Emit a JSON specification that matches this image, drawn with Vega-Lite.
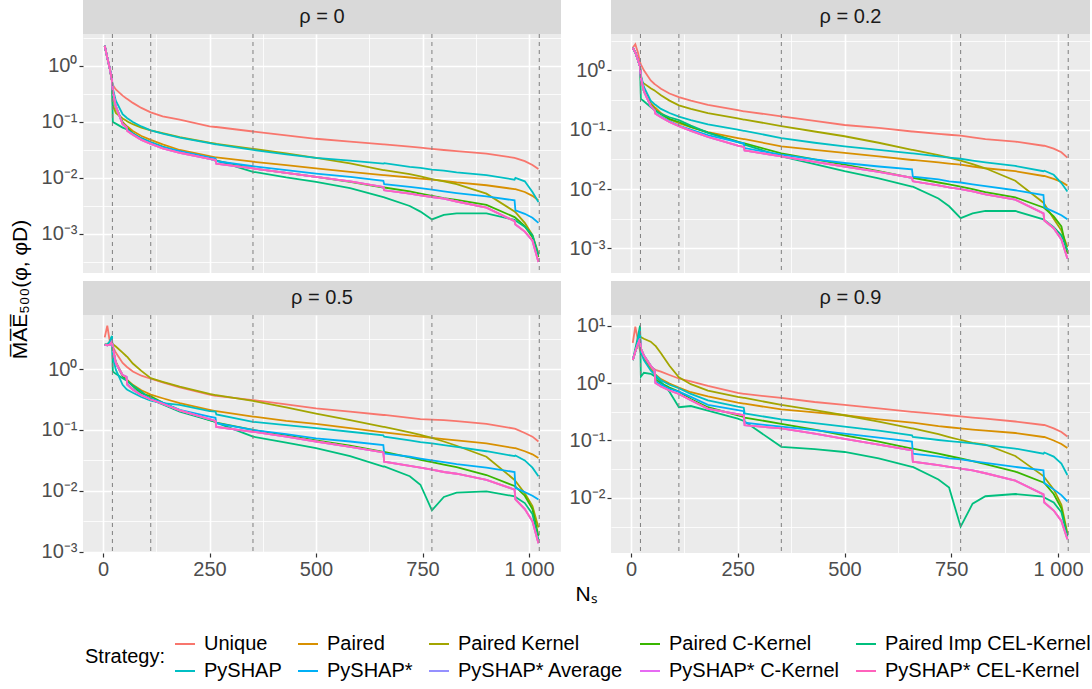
{
"$schema": "https://vega.github.io/schema/vega-lite/v6.json",
"padding": {"left": 9, "top": 0, "right": 0, "bottom": 5},
"autosize": {"type": "pad"},
"background": "white",
"config": {
  "font": "Liberation Sans",
  "view": {"stroke": null},
  "axis": {"domain": false, "labelFontSize": 20, "labelColor": "#4D4D4D", "labelFont": "Liberation Sans", "tickColor": "#333333", "tickSize": 4, "tickWidth": 1.2, "gridColor": "#FFFFFF", "titleFontSize": 21, "titleFontWeight": "normal", "titleColor": "#000000", "titleFont": "Liberation Sans", "labelPadding": 2},
  "legend": {"orient": "none", "legendX": 2, "legendY": 633, "direction": "horizontal", "columns": 5, "titleOrient": "left", "titleAnchor": "middle", "titleBaseline": "middle", "titleFontSize": 20, "titleFontWeight": "normal", "titleColor": "#000000", "titleFont": "Liberation Sans", "labelFont": "Liberation Sans", "labelFontSize": 20, "labelColor": "#000000", "labelLimit": 400, "symbolType": "stroke", "symbolStrokeWidth": 2, "symbolSize": 400, "labelOffset": 8, "columnPadding": 12, "rowPadding": 6, "titlePadding": 8}
},
"datasets": {
  "v": [{"v": 22}, {"v": 112}, {"v": 352}, {"v": 772}, {"v": 1024}],
  "n": [{"k":"U","Strategy":"Unique"},{"k":"P","Strategy":"Paired"},{"k":"PK","Strategy":"Paired Kernel"},{"k":"PC","Strategy":"Paired C-Kernel"},{"k":"PI","Strategy":"Paired Imp CEL-Kernel"},{"k":"S","Strategy":"PySHAP"},{"k":"S2","Strategy":"PySHAP*"},{"k":"SA","Strategy":"PySHAP* Average"},{"k":"SC","Strategy":"PySHAP* C-Kernel"},{"k":"SE","Strategy":"PySHAP* CEL-Kernel"}],
  "d": [
{"p":"0","x":4,"U":2.29,"P":2.29,"PK":2.29,"PC":2.29,"PI":2.29,"S":2.29,"S2":2.29,"SA":2.29,"SC":2.29,"SE":2.29},
{"p":"0","x":10,"U":1.38,"P":1.41,"PK":1.41,"PC":1.41,"PI":1.41,"S":1.41,"S2":1.41,"SA":1.41,"SC":1.41,"SE":1.41},
{"p":"0","x":16,"U":0.871,"P":0.891,"PK":0.891,"PC":0.891,"PI":0.891,"S":0.891,"S2":0.891,"SA":0.891,"SC":0.891,"SE":0.891},
{"p":"0","x":21,"U":0.525,"P":0.55,"PK":0.55,"PC":0.55,"PI":0.55,"S":0.575,"S2":0.55,"SA":0.55,"SC":0.55,"SE":0.55},
{"p":"0","x":23,"U":0.457,"P":0.355,"PK":0.2,"PC":0.355,"PI":0.1,"S":0.398,"S2":0.355,"SA":0.355,"SC":0.355,"SE":0.355},
{"p":"0","x":30,"U":0.38,"P":0.178,"PK":0.145,"PC":0.191,"PI":0.0933,"S":0.24,"S2":0.191,"SA":0.191,"SC":0.191,"SE":0.191},
{"p":"0","x":46,"U":0.295,"P":0.1,"PK":0.115,"PC":0.0955,"PI":0.0794,"S":0.138,"S2":0.0933,"SA":0.0912,"SC":0.0912,"SE":0.0912},
{"p":"0","x":55,"U":0.263,"P":0.0851,"PK":0.105,"PC":0.0813,"PI":0.0741,"S":0.12,"S2":0.0813,"SA":0.0794,"SC":0.0794,"SE":0.0794},
{"p":"0","x":57,"U":0.257,"P":0.0832,"PK":0.102,"PC":0.0776,"PI":0.0724,"S":0.117,"S2":0.0724,"SA":0.0692,"SC":0.0692,"SE":0.0692},
{"p":"0","x":70,"U":0.219,"P":0.0692,"PK":0.0912,"PC":0.0631,"PI":0.0617,"S":0.1,"S2":0.0617,"SA":0.0589,"SC":0.0589,"SE":0.0589},
{"p":"0","x":90,"U":0.178,"P":0.0562,"PK":0.0794,"PC":0.0501,"PI":0.0513,"S":0.0832,"S2":0.0501,"SA":0.0479,"SC":0.0479,"SE":0.0479},
{"p":"0","x":112,"U":0.148,"P":0.0479,"PK":0.0708,"PC":0.0417,"PI":0.0437,"S":0.0708,"S2":0.0427,"SA":0.0407,"SC":0.0407,"SE":0.0407},
{"p":"0","x":140,"U":0.126,"P":0.0398,"PK":0.0631,"PC":0.0347,"PI":0.0363,"S":0.0617,"S2":0.0355,"SA":0.0339,"SC":0.0339,"SE":0.0339},
{"p":"0","x":180,"U":0.11,"P":0.0316,"PK":0.0537,"PC":0.0295,"PI":0.0295,"S":0.0525,"S2":0.0302,"SA":0.0282,"SC":0.0282,"SE":0.0282},
{"p":"0","x":250,"U":0.0832,"P":0.0245,"PK":0.0427,"PC":0.0224,"PI":0.0219,"S":0.0417,"S2":0.0234,"SA":0.0219,"SC":0.0219,"SE":0.0219},
{"p":"0","x":264,"U":0.0813,"P":0.0234,"PK":0.0412,"PC":0.0209,"PI":0.0204,"S":0.0398,"S2":0.0224,"SA":0.0209,"SC":0.0209,"SE":0.0209},
{"p":"0","x":266,"U":0.0813,"P":0.0234,"PK":0.0407,"PC":0.0204,"PI":0.0204,"S":0.0398,"S2":0.02,"SA":0.018,"SC":0.018,"SE":0.018},
{"p":"0","x":352,"U":0.0676,"P":0.0195,"PK":0.0331,"PC":0.0148,"PI":0.0129,"S":0.0316,"S2":0.0162,"SA":0.0148,"SC":0.0148,"SE":0.0148},
{"p":"0","x":430,"U":0.0575,"P":0.017,"PK":0.0275,"PC":0.0123,"PI":0.0102,"S":0.0263,"S2":0.0138,"SA":0.0123,"SC":0.0123,"SE":0.0123},
{"p":"0","x":500,"U":0.0501,"P":0.0148,"PK":0.0229,"PC":0.0105,"PI":0.00851,"S":0.0229,"S2":0.012,"SA":0.0105,"SC":0.0105,"SE":0.0105},
{"p":"0","x":580,"U":0.0447,"P":0.0129,"PK":0.0182,"PC":0.00851,"PI":0.00661,"S":0.0204,"S2":0.0105,"SA":0.00871,"SC":0.00871,"SE":0.00871},
{"p":"0","x":658,"U":0.0398,"P":0.0112,"PK":0.0138,"PC":0.00676,"PI":0.00457,"S":0.018,"S2":0.00891,"SA":0.00692,"SC":0.00692,"SE":0.00692},
{"p":"0","x":660,"U":0.0398,"P":0.0112,"PK":0.0138,"PC":0.00676,"PI":0.00452,"S":0.0184,"S2":0.00776,"SA":0.00603,"SC":0.00603,"SE":0.00603},
{"p":"0","x":720,"U":0.0363,"P":0.0102,"PK":0.0117,"PC":0.00575,"PI":0.00316,"S":0.0158,"S2":0.00692,"SA":0.00525,"SC":0.00525,"SE":0.00525},
{"p":"0","x":745,"U":0.0347,"P":0.00977,"PK":0.0107,"PC":0.00525,"PI":0.00251,"S":0.0151,"S2":0.00661,"SA":0.0049,"SC":0.0049,"SE":0.0049},
{"p":"0","x":772,"U":0.0331,"P":0.00933,"PK":0.00955,"PC":0.00479,"PI":0.00182,"S":0.0141,"S2":0.00617,"SA":0.00457,"SC":0.00457,"SE":0.00457},
{"p":"0","x":800,"U":0.0316,"P":0.00891,"PK":0.00871,"PC":0.00437,"PI":0.00219,"S":0.0135,"S2":0.00575,"SA":0.00427,"SC":0.00427,"SE":0.00427},
{"p":"0","x":830,"U":0.0302,"P":0.00832,"PK":0.00776,"PC":0.00407,"PI":0.00234,"S":0.0126,"S2":0.00537,"SA":0.0038,"SC":0.0038,"SE":0.0038},
{"p":"0","x":900,"U":0.0272,"P":0.00741,"PK":0.00525,"PC":0.00331,"PI":0.00234,"S":0.0112,"S2":0.00468,"SA":0.00295,"SC":0.00295,"SE":0.00295},
{"p":"0","x":966,"U":0.0229,"P":0.00631,"PK":0.00251,"PC":0.002,"PI":0.00178,"S":0.00933,"S2":0.00398,"SA":0.0017,"SC":0.0017,"SE":0.0017},
{"p":"0","x":968,"U":0.0226,"P":0.00631,"PK":0.00245,"PC":0.00195,"PI":0.00174,"S":0.01,"S2":0.00263,"SA":0.00148,"SC":0.00148,"SE":0.00148},
{"p":"0","x":990,"U":0.02,"P":0.00562,"PK":0.00158,"PC":0.00138,"PI":0.00135,"S":0.00871,"S2":0.00229,"SA":0.0011,"SC":0.0011,"SE":0.0011},
{"p":"0","x":1008,"U":0.017,"P":0.00479,"PK":0.000955,"PC":0.000871,"PI":0.000955,"S":0.00562,"S2":0.00195,"SA":0.000759,"SC":0.000759,"SE":0.000759},
{"p":"0","x":1022,"U":0.0145,"P":0.00398,"PK":0.000447,"PC":0.000389,"PI":0.000417,"S":0.00372,"S2":0.00158,"SA":0.000316,"SC":0.000316,"SE":0.000316},
{"p":"0.2","x":4,"U":2.4,"P":2.4,"PK":2.4,"PC":2.4,"PI":2.4,"S":2.4,"S2":2.4,"SA":2.4,"SC":2.4,"SE":2.4},
{"p":"0.2","x":10,"U":2.75,"P":2.0,"PK":2.0,"PC":2.0,"PI":2.0,"S":2.0,"S2":2.0,"SA":2.0,"SC":2.0,"SE":2.0},
{"p":"0.2","x":16,"U":2.0,"P":1.51,"PK":1.51,"PC":1.51,"PI":1.51,"S":1.51,"S2":1.51,"SA":1.51,"SC":1.51,"SE":1.51},
{"p":"0.2","x":21,"U":1.38,"P":1.15,"PK":1.15,"PC":1.15,"PI":1.15,"S":1.15,"S2":1.15,"SA":1.15,"SC":1.15,"SE":1.15},
{"p":"0.2","x":23,"U":1.26,"P":0.794,"PK":0.661,"PC":0.759,"PI":0.331,"S":0.832,"S2":0.759,"SA":0.759,"SC":0.759,"SE":0.759},
{"p":"0.2","x":30,"U":1.0,"P":0.501,"PK":0.603,"PC":0.447,"PI":0.302,"S":0.525,"S2":0.447,"SA":0.447,"SC":0.447,"SE":0.447},
{"p":"0.2","x":46,"U":0.676,"P":0.282,"PK":0.501,"PC":0.263,"PI":0.24,"S":0.309,"S2":0.251,"SA":0.251,"SC":0.251,"SE":0.251},
{"p":"0.2","x":55,"U":0.589,"P":0.24,"PK":0.457,"PC":0.224,"PI":0.214,"S":0.269,"S2":0.214,"SA":0.214,"SC":0.214,"SE":0.214},
{"p":"0.2","x":57,"U":0.575,"P":0.234,"PK":0.447,"PC":0.214,"PI":0.209,"S":0.263,"S2":0.191,"SA":0.186,"SC":0.186,"SE":0.186},
{"p":"0.2","x":70,"U":0.49,"P":0.191,"PK":0.38,"PC":0.182,"PI":0.186,"S":0.224,"S2":0.166,"SA":0.162,"SC":0.162,"SE":0.162},
{"p":"0.2","x":90,"U":0.407,"P":0.151,"PK":0.309,"PC":0.151,"PI":0.162,"S":0.191,"S2":0.138,"SA":0.135,"SC":0.135,"SE":0.135},
{"p":"0.2","x":112,"U":0.355,"P":0.129,"PK":0.257,"PC":0.135,"PI":0.145,"S":0.166,"S2":0.117,"SA":0.115,"SC":0.115,"SE":0.115},
{"p":"0.2","x":140,"U":0.309,"P":0.11,"PK":0.224,"PC":0.112,"PI":0.117,"S":0.145,"S2":0.1,"SA":0.0955,"SC":0.0955,"SE":0.0955},
{"p":"0.2","x":180,"U":0.263,"P":0.0912,"PK":0.191,"PC":0.0891,"PI":0.0891,"S":0.123,"S2":0.0813,"SA":0.0759,"SC":0.0759,"SE":0.0759},
{"p":"0.2","x":250,"U":0.214,"P":0.0724,"PK":0.155,"PC":0.0631,"PI":0.0617,"S":0.1,"S2":0.0617,"SA":0.0537,"SC":0.0537,"SE":0.0537},
{"p":"0.2","x":264,"U":0.204,"P":0.0692,"PK":0.148,"PC":0.0589,"PI":0.0575,"S":0.0955,"S2":0.0589,"SA":0.0513,"SC":0.0513,"SE":0.0513},
{"p":"0.2","x":266,"U":0.204,"P":0.0692,"PK":0.148,"PC":0.0589,"PI":0.0562,"S":0.0955,"S2":0.049,"SA":0.0447,"SC":0.0447,"SE":0.0447},
{"p":"0.2","x":352,"U":0.168,"P":0.0525,"PK":0.115,"PC":0.0398,"PI":0.0355,"S":0.0724,"S2":0.038,"SA":0.0355,"SC":0.0355,"SE":0.0355},
{"p":"0.2","x":430,"U":0.141,"P":0.0457,"PK":0.0933,"PC":0.0316,"PI":0.0263,"S":0.0603,"S2":0.0316,"SA":0.0288,"SC":0.0288,"SE":0.0288},
{"p":"0.2","x":500,"U":0.12,"P":0.0407,"PK":0.0776,"PC":0.0257,"PI":0.02,"S":0.0525,"S2":0.0275,"SA":0.024,"SC":0.024,"SE":0.024},
{"p":"0.2","x":580,"U":0.107,"P":0.0355,"PK":0.0603,"PC":0.02,"PI":0.0151,"S":0.0457,"S2":0.024,"SA":0.0195,"SC":0.0195,"SE":0.0195},
{"p":"0.2","x":658,"U":0.0933,"P":0.0309,"PK":0.0457,"PC":0.0155,"PI":0.011,"S":0.0398,"S2":0.0214,"SA":0.0155,"SC":0.0155,"SE":0.0155},
{"p":"0.2","x":660,"U":0.0933,"P":0.0309,"PK":0.0457,"PC":0.0155,"PI":0.011,"S":0.0398,"S2":0.0162,"SA":0.0135,"SC":0.0135,"SE":0.0135},
{"p":"0.2","x":720,"U":0.0851,"P":0.0282,"PK":0.0372,"PC":0.0129,"PI":0.00692,"S":0.0355,"S2":0.0145,"SA":0.0115,"SC":0.0115,"SE":0.0115},
{"p":"0.2","x":745,"U":0.0822,"P":0.0269,"PK":0.0339,"PC":0.012,"PI":0.00513,"S":0.0339,"S2":0.0135,"SA":0.0107,"SC":0.0107,"SE":0.0107},
{"p":"0.2","x":772,"U":0.0794,"P":0.0257,"PK":0.0302,"PC":0.011,"PI":0.00324,"S":0.0324,"S2":0.0129,"SA":0.01,"SC":0.01,"SE":0.01},
{"p":"0.2","x":800,"U":0.0741,"P":0.024,"PK":0.0263,"PC":0.01,"PI":0.00389,"S":0.0302,"S2":0.012,"SA":0.00912,"SC":0.00912,"SE":0.00912},
{"p":"0.2","x":830,"U":0.0692,"P":0.0224,"PK":0.0224,"PC":0.00891,"PI":0.00427,"S":0.0282,"S2":0.0112,"SA":0.00813,"SC":0.00813,"SE":0.00813},
{"p":"0.2","x":900,"U":0.0631,"P":0.02,"PK":0.0138,"PC":0.00724,"PI":0.00427,"S":0.0245,"S2":0.00955,"SA":0.00661,"SC":0.00661,"SE":0.00661},
{"p":"0.2","x":966,"U":0.0537,"P":0.0166,"PK":0.00589,"PC":0.0049,"PI":0.00309,"S":0.02,"S2":0.00794,"SA":0.00389,"SC":0.00389,"SE":0.00389},
{"p":"0.2","x":968,"U":0.0537,"P":0.0166,"PK":0.00562,"PC":0.00479,"PI":0.00302,"S":0.0204,"S2":0.0049,"SA":0.00295,"SC":0.00295,"SE":0.00295},
{"p":"0.2","x":990,"U":0.0479,"P":0.0148,"PK":0.00316,"PC":0.00347,"PI":0.00229,"S":0.0174,"S2":0.00417,"SA":0.00219,"SC":0.00219,"SE":0.00219},
{"p":"0.2","x":1008,"U":0.0417,"P":0.0132,"PK":0.002,"PC":0.00234,"PI":0.00166,"S":0.0126,"S2":0.00363,"SA":0.00141,"SC":0.00141,"SE":0.00141},
{"p":"0.2","x":1022,"U":0.0339,"P":0.0115,"PK":0.00105,"PC":0.000813,"PI":0.000933,"S":0.00912,"S2":0.00309,"SA":0.000676,"SC":0.000676,"SE":0.000676},
{"p":"0.5","x":4,"U":3.31,"P":2.51,"PK":2.51,"PC":2.51,"PI":2.51,"S":2.51,"S2":2.51,"SA":2.51,"SC":2.51,"SE":2.51},
{"p":"0.5","x":10,"U":5.13,"P":2.51,"PK":2.51,"PC":2.45,"PI":2.51,"S":2.51,"S2":2.45,"SA":2.45,"SC":2.45,"SE":2.45},
{"p":"0.5","x":16,"U":2.82,"P":2.57,"PK":2.57,"PC":2.51,"PI":2.82,"S":2.82,"S2":2.51,"SA":2.51,"SC":2.51,"SE":2.51},
{"p":"0.5","x":21,"U":2.51,"P":2.63,"PK":2.51,"PC":2.82,"PI":3.47,"S":3.47,"S2":2.82,"SA":2.82,"SC":2.82,"SE":2.82},
{"p":"0.5","x":23,"U":2.34,"P":2.0,"PK":2.57,"PC":2.24,"PI":0.912,"S":1.58,"S2":2.24,"SA":2.24,"SC":2.24,"SE":2.24},
{"p":"0.5","x":30,"U":1.86,"P":1.32,"PK":2.34,"PC":1.26,"PI":0.832,"S":0.977,"S2":1.26,"SA":1.26,"SC":1.26,"SE":1.26},
{"p":"0.5","x":46,"U":1.26,"P":0.794,"PK":1.86,"PC":0.759,"PI":0.708,"S":0.55,"S2":0.794,"SA":0.794,"SC":0.794,"SE":0.794},
{"p":"0.5","x":55,"U":1.1,"P":0.676,"PK":1.62,"PC":0.661,"PI":0.646,"S":0.468,"S2":0.741,"SA":0.741,"SC":0.741,"SE":0.741},
{"p":"0.5","x":57,"U":1.07,"P":0.661,"PK":1.58,"PC":0.646,"PI":0.631,"S":0.457,"S2":0.562,"SA":0.55,"SC":0.55,"SE":0.55},
{"p":"0.5","x":70,"U":0.912,"P":0.55,"PK":1.23,"PC":0.525,"PI":0.537,"S":0.407,"S2":0.468,"SA":0.457,"SC":0.457,"SE":0.457},
{"p":"0.5","x":90,"U":0.776,"P":0.447,"PK":0.933,"PC":0.398,"PI":0.427,"S":0.347,"S2":0.38,"SA":0.372,"SC":0.372,"SE":0.372},
{"p":"0.5","x":112,"U":0.692,"P":0.38,"PK":0.708,"PC":0.355,"PI":0.316,"S":0.302,"S2":0.331,"SA":0.316,"SC":0.316,"SE":0.316},
{"p":"0.5","x":140,"U":0.603,"P":0.331,"PK":0.617,"PC":0.282,"PI":0.263,"S":0.275,"S2":0.282,"SA":0.269,"SC":0.269,"SE":0.269},
{"p":"0.5","x":180,"U":0.501,"P":0.275,"PK":0.513,"PC":0.209,"PI":0.2,"S":0.257,"S2":0.214,"SA":0.209,"SC":0.209,"SE":0.209},
{"p":"0.5","x":250,"U":0.38,"P":0.214,"PK":0.389,"PC":0.145,"PI":0.145,"S":0.204,"S2":0.166,"SA":0.151,"SC":0.151,"SE":0.151},
{"p":"0.5","x":264,"U":0.363,"P":0.204,"PK":0.372,"PC":0.135,"PI":0.135,"S":0.2,"S2":0.158,"SA":0.141,"SC":0.141,"SE":0.141},
{"p":"0.5","x":266,"U":0.363,"P":0.204,"PK":0.372,"PC":0.132,"PI":0.132,"S":0.18,"S2":0.129,"SA":0.112,"SC":0.112,"SE":0.112},
{"p":"0.5","x":352,"U":0.309,"P":0.166,"PK":0.299,"PC":0.1,"PI":0.0776,"S":0.136,"S2":0.1,"SA":0.0933,"SC":0.0933,"SE":0.0933},
{"p":"0.5","x":430,"U":0.263,"P":0.141,"PK":0.234,"PC":0.0813,"PI":0.0617,"S":0.12,"S2":0.0851,"SA":0.0776,"SC":0.0776,"SE":0.0776},
{"p":"0.5","x":500,"U":0.226,"P":0.126,"PK":0.186,"PC":0.0676,"PI":0.0501,"S":0.107,"S2":0.0724,"SA":0.0646,"SC":0.0646,"SE":0.0646},
{"p":"0.5","x":580,"U":0.2,"P":0.107,"PK":0.145,"PC":0.055,"PI":0.0372,"S":0.0933,"S2":0.0646,"SA":0.0525,"SC":0.0525,"SE":0.0525},
{"p":"0.5","x":658,"U":0.176,"P":0.0912,"PK":0.112,"PC":0.0437,"PI":0.0251,"S":0.0813,"S2":0.0562,"SA":0.0427,"SC":0.0427,"SE":0.0427},
{"p":"0.5","x":660,"U":0.176,"P":0.0912,"PK":0.112,"PC":0.0437,"PI":0.0251,"S":0.0776,"S2":0.0412,"SA":0.0302,"SC":0.0302,"SE":0.0302},
{"p":"0.5","x":720,"U":0.158,"P":0.0813,"PK":0.0912,"PC":0.0355,"PI":0.0174,"S":0.0676,"S2":0.0363,"SA":0.0257,"SC":0.0257,"SE":0.0257},
{"p":"0.5","x":745,"U":0.151,"P":0.0776,"PK":0.0832,"PC":0.0324,"PI":0.0126,"S":0.0631,"S2":0.0339,"SA":0.024,"SC":0.024,"SE":0.024},
{"p":"0.5","x":772,"U":0.148,"P":0.0741,"PK":0.0741,"PC":0.0295,"PI":0.00479,"S":0.0603,"S2":0.0316,"SA":0.0224,"SC":0.0224,"SE":0.0224},
{"p":"0.5","x":800,"U":0.145,"P":0.0708,"PK":0.0646,"PC":0.0269,"PI":0.00794,"S":0.0562,"S2":0.0295,"SA":0.0204,"SC":0.0204,"SE":0.0204},
{"p":"0.5","x":830,"U":0.14,"P":0.0676,"PK":0.055,"PC":0.0245,"PI":0.00933,"S":0.0525,"S2":0.0275,"SA":0.0191,"SC":0.0191,"SE":0.0191},
{"p":"0.5","x":900,"U":0.126,"P":0.0603,"PK":0.0363,"PC":0.0182,"PI":0.00977,"S":0.0447,"S2":0.024,"SA":0.0151,"SC":0.0151,"SE":0.0151},
{"p":"0.5","x":966,"U":0.105,"P":0.0501,"PK":0.0151,"PC":0.012,"PI":0.00813,"S":0.0372,"S2":0.0204,"SA":0.0105,"SC":0.0105,"SE":0.0105},
{"p":"0.5","x":968,"U":0.104,"P":0.0501,"PK":0.0145,"PC":0.0117,"PI":0.00794,"S":0.038,"S2":0.0112,"SA":0.00724,"SC":0.00724,"SE":0.00724},
{"p":"0.5","x":990,"U":0.0891,"P":0.0447,"PK":0.00912,"PC":0.00832,"PI":0.00631,"S":0.0316,"S2":0.00955,"SA":0.00501,"SC":0.00501,"SE":0.00501},
{"p":"0.5","x":1008,"U":0.0776,"P":0.0398,"PK":0.00562,"PC":0.00501,"PI":0.00417,"S":0.024,"S2":0.00832,"SA":0.00316,"SC":0.00316,"SE":0.00316},
{"p":"0.5","x":1022,"U":0.0646,"P":0.0347,"PK":0.00251,"PC":0.00182,"PI":0.00158,"S":0.0174,"S2":0.00724,"SA":0.00138,"SC":0.00138,"SE":0.00138},
{"p":"0.9","x":4,"U":5.01,"P":2.51,"PK":2.51,"PC":2.51,"PI":2.51,"S":2.51,"S2":2.51,"SA":2.51,"SC":2.51,"SE":2.51},
{"p":"0.9","x":10,"U":9.55,"P":3.55,"PK":3.55,"PC":3.55,"PI":3.98,"S":3.55,"S2":3.55,"SA":3.55,"SC":3.55,"SE":3.55},
{"p":"0.9","x":16,"U":5.62,"P":4.79,"PK":4.79,"PC":4.79,"PI":6.31,"S":5.62,"S2":4.79,"SA":4.79,"SC":4.79,"SE":4.79},
{"p":"0.9","x":21,"U":3.63,"P":5.89,"PK":6.31,"PC":5.89,"PI":10,"S":8.51,"S2":5.89,"SA":5.89,"SC":5.89,"SE":5.89},
{"p":"0.9","x":23,"U":3.31,"P":3.55,"PK":6.31,"PC":3.98,"PI":1.29,"S":3.55,"S2":3.98,"SA":3.98,"SC":3.98,"SE":3.98},
{"p":"0.9","x":30,"U":2.69,"P":2.63,"PK":5.89,"PC":3.02,"PI":1.51,"S":2.51,"S2":3.02,"SA":3.02,"SC":3.02,"SE":3.02},
{"p":"0.9","x":46,"U":1.91,"P":1.78,"PK":5.25,"PC":2.0,"PI":1.45,"S":1.66,"S2":2.0,"SA":2.0,"SC":2.0,"SE":2.0},
{"p":"0.9","x":55,"U":1.74,"P":1.45,"PK":4.57,"PC":1.66,"PI":1.32,"S":1.41,"S2":1.66,"SA":1.66,"SC":1.66,"SE":1.66},
{"p":"0.9","x":57,"U":1.7,"P":1.41,"PK":4.47,"PC":1.15,"PI":1.29,"S":1.38,"S2":1.07,"SA":1.0,"SC":1.0,"SE":1.0},
{"p":"0.9","x":70,"U":1.58,"P":1.17,"PK":3.31,"PC":1.0,"PI":1.05,"S":1.12,"S2":0.933,"SA":0.871,"SC":0.871,"SE":0.871},
{"p":"0.9","x":90,"U":1.38,"P":0.977,"PK":2.0,"PC":0.832,"PI":0.708,"S":0.933,"S2":0.794,"SA":0.741,"SC":0.741,"SE":0.741},
{"p":"0.9","x":112,"U":1.2,"P":0.832,"PK":1.26,"PC":0.708,"PI":0.38,"S":0.813,"S2":0.708,"SA":0.646,"SC":0.646,"SE":0.646},
{"p":"0.9","x":140,"U":1.07,"P":0.692,"PK":0.955,"PC":0.525,"PI":0.398,"S":0.646,"S2":0.575,"SA":0.501,"SC":0.501,"SE":0.501},
{"p":"0.9","x":180,"U":0.891,"P":0.589,"PK":0.741,"PC":0.38,"PI":0.331,"S":0.501,"S2":0.417,"SA":0.355,"SC":0.355,"SE":0.355},
{"p":"0.9","x":250,"U":0.676,"P":0.457,"PK":0.575,"PC":0.275,"PI":0.24,"S":0.389,"S2":0.339,"SA":0.288,"SC":0.288,"SE":0.288},
{"p":"0.9","x":264,"U":0.646,"P":0.437,"PK":0.55,"PC":0.257,"PI":0.219,"S":0.372,"S2":0.324,"SA":0.275,"SC":0.275,"SE":0.275},
{"p":"0.9","x":266,"U":0.646,"P":0.437,"PK":0.55,"PC":0.251,"PI":0.214,"S":0.295,"S2":0.204,"SA":0.184,"SC":0.184,"SE":0.184},
{"p":"0.9","x":352,"U":0.55,"P":0.347,"PK":0.417,"PC":0.195,"PI":0.0776,"S":0.234,"S2":0.174,"SA":0.162,"SC":0.162,"SE":0.162},
{"p":"0.9","x":430,"U":0.468,"P":0.309,"PK":0.339,"PC":0.155,"PI":0.0708,"S":0.2,"S2":0.151,"SA":0.132,"SC":0.132,"SE":0.132},
{"p":"0.9","x":500,"U":0.417,"P":0.275,"PK":0.275,"PC":0.123,"PI":0.0631,"S":0.174,"S2":0.132,"SA":0.107,"SC":0.107,"SE":0.107},
{"p":"0.9","x":580,"U":0.363,"P":0.234,"PK":0.214,"PC":0.0955,"PI":0.049,"S":0.148,"S2":0.112,"SA":0.0851,"SC":0.0851,"SE":0.0851},
{"p":"0.9","x":658,"U":0.316,"P":0.204,"PK":0.162,"PC":0.0724,"PI":0.0347,"S":0.123,"S2":0.0955,"SA":0.0676,"SC":0.0676,"SE":0.0676},
{"p":"0.9","x":660,"U":0.316,"P":0.204,"PK":0.162,"PC":0.0724,"PI":0.0347,"S":0.115,"S2":0.0589,"SA":0.0427,"SC":0.0427,"SE":0.0427},
{"p":"0.9","x":720,"U":0.288,"P":0.178,"PK":0.129,"PC":0.0589,"PI":0.0209,"S":0.102,"S2":0.0525,"SA":0.0372,"SC":0.0372,"SE":0.0372},
{"p":"0.9","x":745,"U":0.275,"P":0.17,"PK":0.115,"PC":0.0537,"PI":0.0151,"S":0.0977,"S2":0.049,"SA":0.0347,"SC":0.0347,"SE":0.0347},
{"p":"0.9","x":772,"U":0.263,"P":0.162,"PK":0.102,"PC":0.049,"PI":0.00316,"S":0.0933,"S2":0.0468,"SA":0.0324,"SC":0.0324,"SE":0.0324},
{"p":"0.9","x":800,"U":0.251,"P":0.155,"PK":0.0912,"PC":0.0437,"PI":0.00794,"S":0.0891,"S2":0.0437,"SA":0.0302,"SC":0.0302,"SE":0.0302},
{"p":"0.9","x":830,"U":0.24,"P":0.148,"PK":0.0851,"PC":0.0389,"PI":0.0107,"S":0.0832,"S2":0.0407,"SA":0.0269,"SC":0.0269,"SE":0.0269},
{"p":"0.9","x":900,"U":0.214,"P":0.135,"PK":0.0537,"PC":0.0288,"PI":0.0117,"S":0.0724,"S2":0.0347,"SA":0.02,"SC":0.02,"SE":0.02},
{"p":"0.9","x":966,"U":0.186,"P":0.115,"PK":0.024,"PC":0.0186,"PI":0.0105,"S":0.0589,"S2":0.0302,"SA":0.0115,"SC":0.0115,"SE":0.0115},
{"p":"0.9","x":968,"U":0.186,"P":0.115,"PK":0.0229,"PC":0.0182,"PI":0.0102,"S":0.0617,"S2":0.0182,"SA":0.00832,"SC":0.00832,"SE":0.00832},
{"p":"0.9","x":990,"U":0.162,"P":0.1,"PK":0.0141,"PC":0.0117,"PI":0.00832,"S":0.0525,"S2":0.0141,"SA":0.00603,"SC":0.00603,"SE":0.00603},
{"p":"0.9","x":1008,"U":0.141,"P":0.0871,"PK":0.00759,"PC":0.00661,"PI":0.00562,"S":0.0398,"S2":0.0112,"SA":0.00398,"SC":0.00398,"SE":0.00398},
{"p":"0.9","x":1022,"U":0.117,"P":0.0741,"PK":0.00245,"PC":0.00214,"PI":0.00214,"S":0.0251,"S2":0.00871,"SA":0.00191,"SC":0.00191,"SE":0.00191}
  ]
},
"bounds": "flush",
"columns": 2,
"spacing": {"row": 0, "column": 50},
"concat": [
  {"width": 478, "height": 34, "view": {"fill": "#D9D9D9", "stroke": null}, "data": {"values": [{"t": "ρ = 0"}]}, "mark": {"type": "text", "fontSize": 20, "color": "#1A1A1A", "font": "Liberation Sans"}, "encoding": {"text": {"field": "t", "type": "nominal"}}},
  {"width": 479, "height": 34, "view": {"fill": "#D9D9D9", "stroke": null}, "data": {"values": [{"t": "ρ = 0.2"}]}, "mark": {"type": "text", "fontSize": 20, "color": "#1A1A1A", "font": "Liberation Sans"}, "encoding": {"text": {"field": "t", "type": "nominal"}}},
  {"width": 478, "height": 239, "view": {"fill": "#EBEBEB", "stroke": null},
   "layer": [
    {"data": {"name": "d"},
     "transform": [{"filter": "datum.p == '0'"}, {"fold": ["U","P","PK","PC","PI","S","S2","SA","SC","SE"], "as": ["k","y"]}, {"lookup": "k", "from": {"data": {"name": "n"}, "key": "k", "fields": ["Strategy"]}}],
     "mark": {"type": "line", "strokeWidth": 1.8, "clip": true},
     "encoding": {
      "x": {"field": "x", "type": "quantitative", "scale": {"domain": [-47, 1075], "nice": false, "zero": false}, "axis": {"values": [0,125,250,375,500,625,750,875,1000], "labels": false, "ticks": false, "title": null, "gridWidth": {"condition": {"test": "datum.value % 250 != 0", "value": 0.8}, "value": 1.6}}},
      "y": {"field": "y", "type": "quantitative", "scale": {"type": "log", "domain": [0.000201, 3.72], "nice": false}, "axis": {"values": [0.000316,0.001,0.00316,0.01,0.0316,0.1,0.316,1,3.16], "title": null, "labelExpr": "abs(log(datum.value)/LN10 - round(log(datum.value)/LN10)) > 0.1 ? '' : round(log(datum.value)/LN10) == 1 ? '10¹' : round(log(datum.value)/LN10) == 0 ? '10⁰' : round(log(datum.value)/LN10) == -1 ? '10⁻¹' : round(log(datum.value)/LN10) == -2 ? '10⁻²' : '10⁻³'", "tickOpacity": {"condition": {"test": "abs(log(datum.value)/LN10 - round(log(datum.value)/LN10)) > 0.1", "value": 0}, "value": 1}, "gridWidth": {"condition": {"test": "abs(log(datum.value)/LN10 - round(log(datum.value)/LN10)) > 0.1", "value": 0.8}, "value": 1.6}}},
      "color": {"field": "Strategy", "type": "nominal", "title": "Strategy:", "scale": {"domain": ["Unique","Paired","Paired Kernel","Paired C-Kernel","Paired Imp CEL-Kernel","PySHAP","PySHAP*","PySHAP* Average","PySHAP* C-Kernel","PySHAP* CEL-Kernel"], "range": ["#F8766D","#D89000","#A3A500","#39B600","#00BF7D","#00BFC4","#00B0F6","#9590FF","#E76BF3","#FF62BC"]}}
     }},
    {"data": {"name": "v"}, "mark": {"type": "rule", "strokeDash": [4, 4], "color": "#7F7F7F", "strokeWidth": 1}, "encoding": {"x": {"field": "v", "type": "quantitative"}}}
   ]},
  {"width": 479, "height": 239, "view": {"fill": "#EBEBEB", "stroke": null},
   "layer": [
    {"data": {"name": "d"},
     "transform": [{"filter": "datum.p == '0.2'"}, {"fold": ["U","P","PK","PC","PI","S","S2","SA","SC","SE"], "as": ["k","y"]}, {"lookup": "k", "from": {"data": {"name": "n"}, "key": "k", "fields": ["Strategy"]}}],
     "mark": {"type": "line", "strokeWidth": 1.8, "clip": true},
     "encoding": {
      "x": {"field": "x", "type": "quantitative", "scale": {"domain": [-47, 1075], "nice": false, "zero": false}, "axis": {"values": [0,125,250,375,500,625,750,875,1000], "labels": false, "ticks": false, "title": null, "gridWidth": {"condition": {"test": "datum.value % 250 != 0", "value": 0.8}, "value": 1.6}}},
      "y": {"field": "y", "type": "quantitative", "scale": {"type": "log", "domain": [0.000385, 4.1], "nice": false}, "axis": {"values": [0.001,0.00316,0.01,0.0316,0.1,0.316,1,3.16], "title": null, "labelExpr": "abs(log(datum.value)/LN10 - round(log(datum.value)/LN10)) > 0.1 ? '' : round(log(datum.value)/LN10) == 1 ? '10¹' : round(log(datum.value)/LN10) == 0 ? '10⁰' : round(log(datum.value)/LN10) == -1 ? '10⁻¹' : round(log(datum.value)/LN10) == -2 ? '10⁻²' : '10⁻³'", "tickOpacity": {"condition": {"test": "abs(log(datum.value)/LN10 - round(log(datum.value)/LN10)) > 0.1", "value": 0}, "value": 1}, "gridWidth": {"condition": {"test": "abs(log(datum.value)/LN10 - round(log(datum.value)/LN10)) > 0.1", "value": 0.8}, "value": 1.6}}},
      "color": {"field": "Strategy", "type": "nominal", "title": "Strategy:", "scale": {"domain": ["Unique","Paired","Paired Kernel","Paired C-Kernel","Paired Imp CEL-Kernel","PySHAP","PySHAP*","PySHAP* Average","PySHAP* C-Kernel","PySHAP* CEL-Kernel"], "range": ["#F8766D","#D89000","#A3A500","#39B600","#00BF7D","#00BFC4","#00B0F6","#9590FF","#E76BF3","#FF62BC"]}}
     }},
    {"data": {"name": "v"}, "mark": {"type": "rule", "strokeDash": [4, 4], "color": "#7F7F7F", "strokeWidth": 1}, "encoding": {"x": {"field": "v", "type": "quantitative"}}}
   ]},
  {"width": 478, "height": 8, "data": {"values": [{"t": ""}]}, "mark": {"type": "text"}, "encoding": {"text": {"field": "t", "type": "nominal"}}},
  {"width": 479, "height": 8, "data": {"values": [{"t": ""}]}, "mark": {"type": "text"}, "encoding": {"text": {"field": "t", "type": "nominal"}}},
  {"width": 478, "height": 34, "view": {"fill": "#D9D9D9", "stroke": null}, "data": {"values": [{"t": "ρ = 0.5"}]}, "mark": {"type": "text", "fontSize": 20, "color": "#1A1A1A", "font": "Liberation Sans"}, "encoding": {"text": {"field": "t", "type": "nominal"}}},
  {"width": 479, "height": 34, "view": {"fill": "#D9D9D9", "stroke": null}, "data": {"values": [{"t": "ρ = 0.9"}]}, "mark": {"type": "text", "fontSize": 20, "color": "#1A1A1A", "font": "Liberation Sans"}, "encoding": {"text": {"field": "t", "type": "nominal"}}},
  {"width": 478, "height": 238, "view": {"fill": "#EBEBEB", "stroke": null},
   "layer": [
    {"data": {"name": "d"},
     "transform": [{"filter": "datum.p == '0.5'"}, {"fold": ["U","P","PK","PC","PI","S","S2","SA","SC","SE"], "as": ["k","y"]}, {"lookup": "k", "from": {"data": {"name": "n"}, "key": "k", "fields": ["Strategy"]}}],
     "mark": {"type": "line", "strokeWidth": 1.8, "clip": true},
     "encoding": {
      "x": {"field": "x", "type": "quantitative", "scale": {"domain": [-47, 1075], "nice": false, "zero": false}, "axis": {"values": [0,125,250,375,500,625,750,875,1000], "title": "Nₛ", "titleX": 503, "titlePadding": 4, "labelExpr": "datum.value % 250 != 0 ? '' : datum.value == 1000 ? '1 000' : '' + datum.value", "tickOpacity": {"condition": {"test": "datum.value % 250 != 0", "value": 0}, "value": 1}, "gridWidth": {"condition": {"test": "datum.value % 250 != 0", "value": 0.8}, "value": 1.6}}},
      "y": {"field": "y", "type": "quantitative", "scale": {"type": "log", "domain": [0.000955, 7.7], "nice": false}, "axis": {"values": [0.001,0.00316,0.01,0.0316,0.1,0.316,1,3.16], "title": "M̅A̅E̅₅₀₀(φ, φD)", "titleX": -63, "titleY": -26, "titleBaseline": "middle", "labelExpr": "abs(log(datum.value)/LN10 - round(log(datum.value)/LN10)) > 0.1 ? '' : round(log(datum.value)/LN10) == 1 ? '10¹' : round(log(datum.value)/LN10) == 0 ? '10⁰' : round(log(datum.value)/LN10) == -1 ? '10⁻¹' : round(log(datum.value)/LN10) == -2 ? '10⁻²' : '10⁻³'", "tickOpacity": {"condition": {"test": "abs(log(datum.value)/LN10 - round(log(datum.value)/LN10)) > 0.1", "value": 0}, "value": 1}, "gridWidth": {"condition": {"test": "abs(log(datum.value)/LN10 - round(log(datum.value)/LN10)) > 0.1", "value": 0.8}, "value": 1.6}}},
      "color": {"field": "Strategy", "type": "nominal", "title": "Strategy:", "scale": {"domain": ["Unique","Paired","Paired Kernel","Paired C-Kernel","Paired Imp CEL-Kernel","PySHAP","PySHAP*","PySHAP* Average","PySHAP* C-Kernel","PySHAP* CEL-Kernel"], "range": ["#F8766D","#D89000","#A3A500","#39B600","#00BF7D","#00BFC4","#00B0F6","#9590FF","#E76BF3","#FF62BC"]}}
     }},
    {"data": {"name": "v"}, "mark": {"type": "rule", "strokeDash": [4, 4], "color": "#7F7F7F", "strokeWidth": 1}, "encoding": {"x": {"field": "v", "type": "quantitative"}}}
   ]},
  {"width": 479, "height": 238, "view": {"fill": "#EBEBEB", "stroke": null},
   "layer": [
    {"data": {"name": "d"},
     "transform": [{"filter": "datum.p == '0.9'"}, {"fold": ["U","P","PK","PC","PI","S","S2","SA","SC","SE"], "as": ["k","y"]}, {"lookup": "k", "from": {"data": {"name": "n"}, "key": "k", "fields": ["Strategy"]}}],
     "mark": {"type": "line", "strokeWidth": 1.8, "clip": true},
     "encoding": {
      "x": {"field": "x", "type": "quantitative", "scale": {"domain": [-47, 1075], "nice": false, "zero": false}, "axis": {"values": [0,125,250,375,500,625,750,875,1000], "title": null, "labelExpr": "datum.value % 250 != 0 ? '' : datum.value == 1000 ? '1 000' : '' + datum.value", "tickOpacity": {"condition": {"test": "datum.value % 250 != 0", "value": 0}, "value": 1}, "gridWidth": {"condition": {"test": "datum.value % 250 != 0", "value": 0.8}, "value": 1.6}}},
      "y": {"field": "y", "type": "quantitative", "scale": {"type": "log", "domain": [0.0011, 15.3], "nice": false}, "axis": {"values": [0.00316,0.01,0.0316,0.1,0.316,1,3.16,10], "title": null, "labelExpr": "abs(log(datum.value)/LN10 - round(log(datum.value)/LN10)) > 0.1 ? '' : round(log(datum.value)/LN10) == 1 ? '10¹' : round(log(datum.value)/LN10) == 0 ? '10⁰' : round(log(datum.value)/LN10) == -1 ? '10⁻¹' : round(log(datum.value)/LN10) == -2 ? '10⁻²' : '10⁻³'", "tickOpacity": {"condition": {"test": "abs(log(datum.value)/LN10 - round(log(datum.value)/LN10)) > 0.1", "value": 0}, "value": 1}, "gridWidth": {"condition": {"test": "abs(log(datum.value)/LN10 - round(log(datum.value)/LN10)) > 0.1", "value": 0.8}, "value": 1.6}}},
      "color": {"field": "Strategy", "type": "nominal", "title": "Strategy:", "scale": {"domain": ["Unique","Paired","Paired Kernel","Paired C-Kernel","Paired Imp CEL-Kernel","PySHAP","PySHAP*","PySHAP* Average","PySHAP* C-Kernel","PySHAP* CEL-Kernel"], "range": ["#F8766D","#D89000","#A3A500","#39B600","#00BF7D","#00BFC4","#00B0F6","#9590FF","#E76BF3","#FF62BC"]}}
     }},
    {"data": {"name": "v"}, "mark": {"type": "rule", "strokeDash": [4, 4], "color": "#7F7F7F", "strokeWidth": 1}, "encoding": {"x": {"field": "v", "type": "quantitative"}}}
   ]}
]
}
